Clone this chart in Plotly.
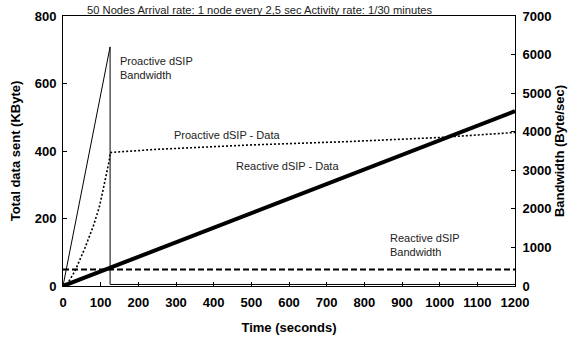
import plotly.graph_objects as go

# Data
pro_bw_t = [0, 125, 125, 1200]
pro_bw_v = [0, 6200, 40, 40]          # Byte/sec (right axis)

pro_data_t = [0, 11, 32, 58, 80, 96, 107, 116, 123, 125, 130, 250, 500, 760, 1000, 1200]
pro_data_v = [0, 5, 45, 112, 176, 232, 288, 334, 373, 395, 396, 405, 418, 428, 440, 455]  # KByte

re_data_t = [0, 1200]
re_data_v = [0, 518]                  # KByte

re_bw_t = [0, 1200]
re_bw_v = [430, 430]                  # Byte/sec

x_ticks = list(range(0, 1201, 100))
y1_ticks = [0, 200, 400, 600, 800]
y2_ticks = [0, 1000, 2000, 3000, 4000, 5000, 6000, 7000]

FONT = "Liberation Sans, Arial, sans-serif"
TITLE_FONT = dict(family=FONT, size=13, color="black", weight="bold")

fig = go.Figure()
fig.add_trace(go.Scatter(x=re_data_t, y=re_data_v, mode="lines",
                         line=dict(color="black", width=4), yaxis="y"))
fig.add_trace(go.Scatter(x=pro_data_t, y=pro_data_v, mode="lines",
                         line=dict(color="black", width=1.6, dash="2px,2px"), yaxis="y"))
fig.add_trace(go.Scatter(x=pro_bw_t, y=pro_bw_v, mode="lines",
                         line=dict(color="black", width=1), yaxis="y2"))
fig.add_trace(go.Scatter(x=re_bw_t, y=re_bw_v, mode="lines",
                         line=dict(color="black", width=2, dash="6px,3px"), yaxis="y2"))

axis_common = dict(showgrid=False, zeroline=False, showline=True, linecolor="black",
                   linewidth=1, ticks="inside", ticklen=4, tickcolor="black", automargin=False,
                   tickfont=dict(family=FONT, size=13, color="black", weight="bold"))

fig.update_layout(
    width=576, height=339,
    margin=dict(l=63, r=61, t=16, b=53),
    paper_bgcolor="white", plot_bgcolor="white",
    showlegend=False,
    xaxis=dict(range=[0, 1200], tickvals=x_ticks, mirror=True, ticklabelstandoff=4,
               title=dict(text="Time (seconds)", font=TITLE_FONT, standoff=14),
               **axis_common),
    yaxis=dict(range=[0, 800], tickvals=y1_ticks, ticklabelstandoff=3,
               title=dict(text="Total data sent (KByte)", font=TITLE_FONT, standoff=11),
               **axis_common),
    yaxis2=dict(range=[0, 7000], tickvals=y2_ticks, overlaying="y", side="right",
                ticklabelstandoff=4,
                title=dict(text="Bandwidth (Byte/sec)", font=TITLE_FONT, standoff=1),
                **axis_common),
)

ann_font = dict(family=FONT, size=11, color="#222")
fig.add_annotation(text="50 Nodes Arrival rate: 1 node every 2,5 sec Activity rate: 1/30 minutes",
                   xref="paper", yref="paper", x=0.436, y=1.0, yanchor="bottom", xanchor="center",
                   showarrow=False, font=dict(family=FONT, size=11.2, color="#222"), yshift=-2)
fig.add_annotation(text="Proactive dSIP<br>Bandwidth", x=145, y=645, xanchor="left", align="left",
                   showarrow=False, font=ann_font)
fig.add_annotation(text="Proactive dSIP - Data", x=290, y=448, xanchor="left",
                   showarrow=False, font=ann_font)
fig.add_annotation(text="Reactive dSIP - Data", x=455, y=357, xanchor="left",
                   showarrow=False, font=ann_font)
fig.add_annotation(text="Reactive dSIP<br>Bandwidth", x=862, y=122, xanchor="left", align="left",
                   showarrow=False, font=ann_font)

fig.write_html("out.html")
